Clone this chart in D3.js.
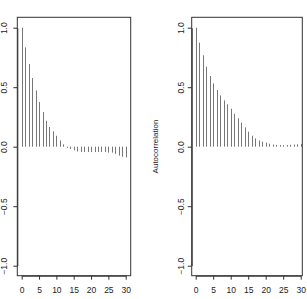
<!DOCTYPE html>
<html>
<head>
<meta charset="utf-8">
<script src="https://cdn.jsdelivr.net/npm/d3@7"></script>
<style>
  body { margin: 0; background: #fff; }
  text { font-family: "Liberation Sans", Arial, sans-serif; fill: #222; }
</style>
</head>
<body>
<div id="chart"></div>
<script>
// Autocorrelation values (lags 0..30)
const lags = d3.range(0, 31);
const acfLeft = [1.0, 0.835, 0.695, 0.577, 0.473, 0.375, 0.291, 0.218, 0.165, 0.129,
  0.092, 0.053, 0.02, -0.01, -0.02, -0.03, -0.04, -0.045, -0.045, -0.045,
  -0.045, -0.045, -0.045, -0.045, -0.045, -0.05, -0.05, -0.06, -0.075, -0.085, -0.09];
const acfRight = [1.0, 0.874, 0.768, 0.672, 0.594, 0.532, 0.476, 0.431, 0.389, 0.356,
  0.319, 0.277, 0.238, 0.202, 0.162, 0.126, 0.092, 0.07, 0.052, 0.042,
  0.034, 0.025, 0.018, 0.015, 0.014, 0.013, 0.014, 0.016, 0.018, 0.02, 0.022];
const xTicks = [0, 5, 10, 15, 20, 25, 30];
const yTicks = [-1.0, -0.5, 0.0, 0.5, 1.0];

const W = 307, H = 299;
const svg = d3.select("#chart").append("svg")
  .attr("width", W)
  .attr("height", H);

// panel geometry (pixel boxes)
const panels = [
  { values: acfLeft, box: [17.3, 130.7], xr: [21.7, 125.7], labelX: 4, ylab: null },
  { values: acfRight, box: [191.7, 302.3], xr: [195.7, 300.7], labelX: 180.5, ylab: "Autocorrelation" }
];
const boxTop = 17.3, boxBottom = 275.7;

const y = d3.scaleLinear().domain([-1, 1]).range([265.7, 27.7]);

panels.forEach(p => {
  const x = d3.scaleLinear().domain([0, 30]).range(p.xr);
  const g = svg.append("g");

  // bars
  g.selectAll("line.bar")
    .data(lags)
    .enter()
    .append("line")
    .attr("class", "bar")
    .attr("x1", d => Math.round(x(d)) + 0.5)
    .attr("x2", d => Math.round(x(d)) + 0.5)
    .attr("y1", y(0))
    .attr("y2", d => y(p.values[d]))
    .attr("stroke", "#777")
    .attr("stroke-width", 1);

  // frame
  g.append("rect")
    .attr("x", p.box[0])
    .attr("y", boxTop)
    .attr("width", p.box[1] - p.box[0])
    .attr("height", boxBottom - boxTop)
    .attr("fill", "none")
    .attr("stroke", "#333")
    .attr("stroke-width", 1);

  // x axis
  const xa = g.append("g")
    .attr("transform", `translate(0,${boxBottom})`)
    .call(d3.axisBottom(x).tickValues(xTicks).tickSize(4).tickPadding(7).tickSizeOuter(0));
  xa.select(".domain").attr("stroke", "#333");
  xa.selectAll(".tick line").attr("stroke", "#333");
  xa.selectAll("text").style("font-size", "8.5px").attr("fill", "#222");

  // y axis
  const ya = g.append("g")
    .attr("transform", `translate(${p.box[0]},0)`)
    .call(d3.axisLeft(y).tickValues(yTicks).tickSize(4).tickSizeOuter(0)
      .tickFormat(d => d3.format(".1f")(d).replace("-", "\u2212")));
  ya.select(".domain").attr("stroke", "#333");
  ya.selectAll(".tick line").attr("stroke", "#333");
  ya.selectAll("text")
    .attr("x", null).attr("dy", null)
    .attr("transform", `translate(${p.labelX - p.box[0] + 3},0) rotate(-90)`)
    .attr("text-anchor", "middle")
    .style("font-size", "8.5px")
    .attr("fill", "#222");

  if (p.ylab) {
    svg.append("text")
      .attr("transform", `translate(158,${(boxTop + boxBottom) / 2}) rotate(-90)`)
      .attr("text-anchor", "middle")
      .style("font-size", "8px")
      .text(p.ylab);
  }
});
</script>
</body>
</html>
